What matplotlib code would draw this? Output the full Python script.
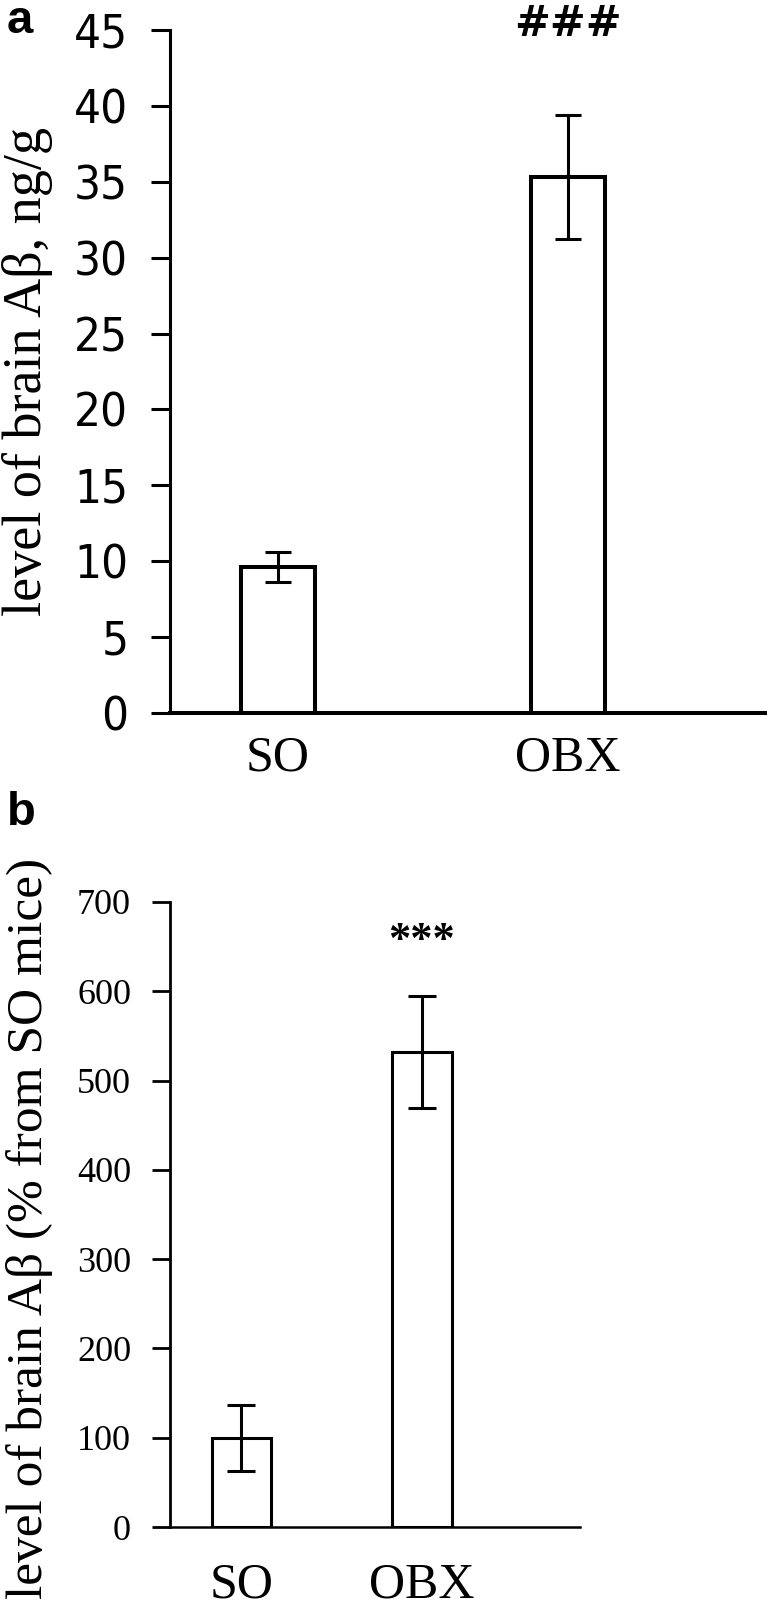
import numpy as np
import matplotlib.pyplot as plt
from matplotlib import font_manager as fm

# data
groups = ['SO', 'OBX']
abeta_ng = [9.6, 35.3]          # panel a, ng/g
abeta_ng_err = [1.0, 4.1]
abeta_pct = [100, 532]          # panel b, % from SO mice
abeta_pct_err = [37, 63]
ticks_a = np.arange(0, 50, 5)
ticks_b = np.arange(0, 800, 100)

W, H = 767, 1612
SERIF = 'Liberation Serif'


def narrow_font():
    # the panel a numbers are in a condensed sans; use one if it is installed
    for fam, stretch in [('Liberation Sans Narrow', 'normal'),
                         ('Arial Narrow', 'normal'),
                         ('DejaVu Sans', 'condensed')]:
        try:
            path = fm.findfont(fm.FontProperties(family=fam, stretch=stretch),
                               fallback_to_default=False)
        except ValueError:
            continue
        if 'arrow' in path or 'ondensed' in path:
            return dict(family=fam, stretch=stretch, fontsize=34)
    return dict(family='Liberation Sans', fontsize=32)


def box(x0, y0, x1, y1):
    # pixel box (top-left origin) -> figure fraction rect
    return [x0 / W, 1 - y1 / H, (x1 - x0) / W, (y1 - y0) / H]


fig = plt.figure(figsize=(W / 100, H / 100), dpi=100)

# ---------------- panel a ----------------
ax1 = fig.add_axes(box(170, 30, 767, 713))
x = np.arange(len(groups))
ax1.bar(x, abeta_ng, width=0.252, color='white', edgecolor='black',
        linewidth=2.9, zorder=2)
ax1.errorbar(x, abeta_ng, yerr=abeta_ng_err, fmt='none', ecolor='black',
             elinewidth=2.2, capsize=9.5, capthick=2.2, zorder=3)
ax1.set_xlim(-0.3724, 1.686)
ax1.set_ylim(0, 45)
ax1.spines[['top', 'right']].set_visible(False)
ax1.spines['left'].set_linewidth(2.2)
ax1.spines['bottom'].set_linewidth(2.9)
ax1.set_yticks(ticks_a, [str(t) for t in ticks_a], **narrow_font())
ax1.set_xticks(x, groups, fontsize=36, family=SERIF)
ax1.tick_params(axis='y', length=14, width=2.2, pad=16)
ax1.tick_params(axis='x', length=0, pad=16)
ax1.set_ylabel('level of brain Aβ, ng/g', fontsize=39, family=SERIF)
ax1.yaxis.label.set_va('center')
ax1.yaxis.set_label_coords(-0.238, (713 - 372) / 683)
ax1.text(1, 44.6, '###', ha='center', va='baseline', fontsize=31,
         fontweight='bold', family='DejaVu Sans')

# ---------------- panel b ----------------
ax2 = fig.add_axes(box(170, 902, 580, 1527))
ax2.bar(x, abeta_pct, width=0.332, color='white', edgecolor='black',
        linewidth=2.2, zorder=2)
ax2.errorbar(x, abeta_pct, yerr=abeta_pct_err, fmt='none', ecolor='black',
             elinewidth=2.2, capsize=10, capthick=2.2, zorder=3)
ax2.set_xlim(-0.396, 1.875)
ax2.set_ylim(0, 700)
ax2.spines[['top', 'right']].set_visible(False)
ax2.spines['left'].set_linewidth(2.0)
ax2.spines['bottom'].set_linewidth(1.8)
ax2.set_yticks(ticks_b, [str(t) for t in ticks_b], fontsize=26, family=SERIF)
ax2.set_xticks(x, groups, fontsize=36, family=SERIF)
ax2.tick_params(axis='y', length=13, width=2.0, pad=15)
ax2.tick_params(axis='x', length=0, pad=25)
ax2.set_ylabel('level of brain Aβ (% from SO mice)', fontsize=37, family=SERIF)
ax2.yaxis.label.set_va('center')
ax2.yaxis.set_label_coords((30 - 170) / 410, (1527 - 1228) / 625)
ax2.text(1, 644, '***', ha='center', va='baseline', fontsize=32,
         fontweight='bold', family=SERIF)

# panel letters
fig.text(7 / W, 1 - 33 / H, 'a', ha='left', va='baseline', fontsize=34,
         fontweight='bold', family='Liberation Sans')
fig.text(7 / W, 1 - 825 / H, 'b', ha='left', va='baseline', fontsize=34,
         fontweight='bold', family='Liberation Sans')

fig.savefig('out.png', dpi=100)
